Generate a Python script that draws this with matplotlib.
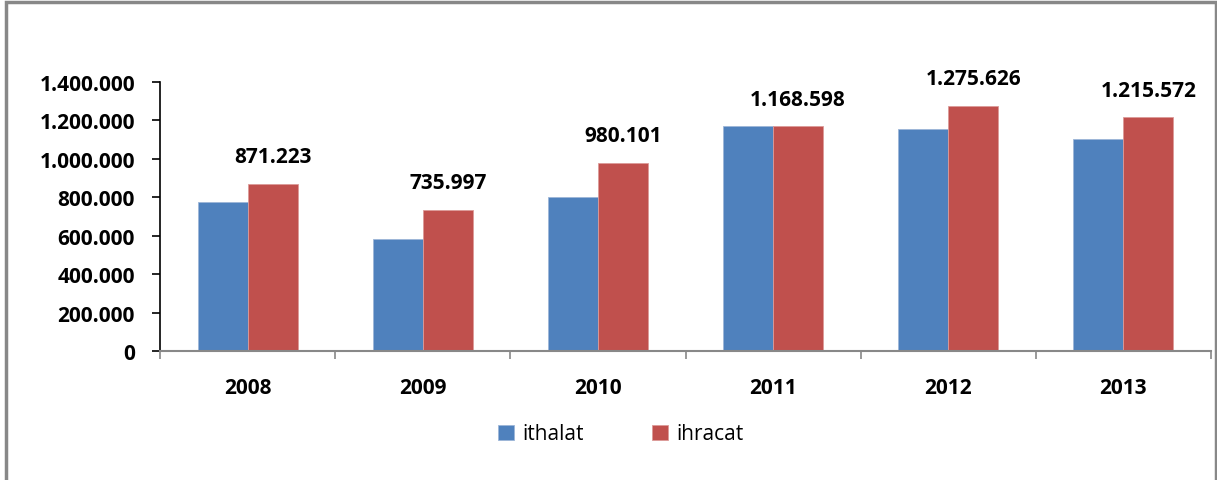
import numpy as np
import matplotlib.pyplot as plt
from matplotlib.patches import Rectangle
from matplotlib.ticker import FuncFormatter

# data
years = ['2008', '2009', '2010', '2011', '2012', '2013']
ithalat = [773700, 581600, 802800, 1170000, 1152800, 1104000]
ihracat = [871223, 735997, 980101, 1168598, 1275626, 1215572]

plt.rcParams['font.family'] = ['Open Sans', 'DejaVu Sans']

fig = plt.figure(figsize=(12.17, 4.81), dpi=100)
ax = fig.add_axes([160/1217, 1-352/481, (1211-160)/1217, (352-83)/481])

# outer frame
fig.patches.append(Rectangle((6/1217, -0.05), (1216-6)/1217, 1.05-3/481,
                             transform=fig.transFigure, fill=False,
                             edgecolor='#888888', linewidth=2.5))

x = np.arange(len(years))
w = 1/3.5
ax.bar(x - w/2, ithalat, w, color='#4F81BD', edgecolor='#9db6d8', linewidth=0.6, label='ithalat')
bars = ax.bar(x + w/2, ihracat, w, color='#C0504D', edgecolor='#dc9a98', linewidth=0.6, label='ihracat')

def fmt(v):
    return '{:,}'.format(int(v)).replace(',', '.')

for b, v in zip(bars, ihracat):
    ax.annotate(fmt(v), (b.get_x() + b.get_width()/2, v), xytext=(0, 12),
                textcoords='offset points', ha='center', va='bottom',
                fontsize=15, fontweight='bold')

ax.set_xlim(-0.5, len(years) - 0.5)
ax.set_ylim(0, 1400000)
ax.set_yticks(np.arange(0, 1400001, 200000))
ax.yaxis.set_major_formatter(FuncFormatter(lambda v, p: fmt(v)))
ax.set_xticks(x)
ax.set_xticklabels(years)
ax.set_xticks(np.arange(-0.5, len(years)), minor=True)
ax.tick_params(axis='x', which='major', length=0, pad=19, labelsize=15)
ax.tick_params(axis='x', which='minor', length=6, color='#888888', width=1.2)
ax.tick_params(axis='y', length=6, width=1.2, labelsize=15, pad=12)
for lbl in ax.get_xticklabels() + ax.get_yticklabels():
    lbl.set_fontweight('bold')

ax.spines['top'].set_visible(False)
ax.spines['right'].set_visible(False)
ax.spines['bottom'].set_color('#888888')
ax.spines['bottom'].set_linewidth(1.5)
ax.spines['left'].set_linewidth(1.2)

fig.legend(loc='center', bbox_to_anchor=(0.51, 1-435/481), ncol=2, frameon=False,
           fontsize=15, handlelength=0.75, handleheight=0.75, columnspacing=3.3,
           handletextpad=0.4)

fig.savefig('out.png', dpi=100)
